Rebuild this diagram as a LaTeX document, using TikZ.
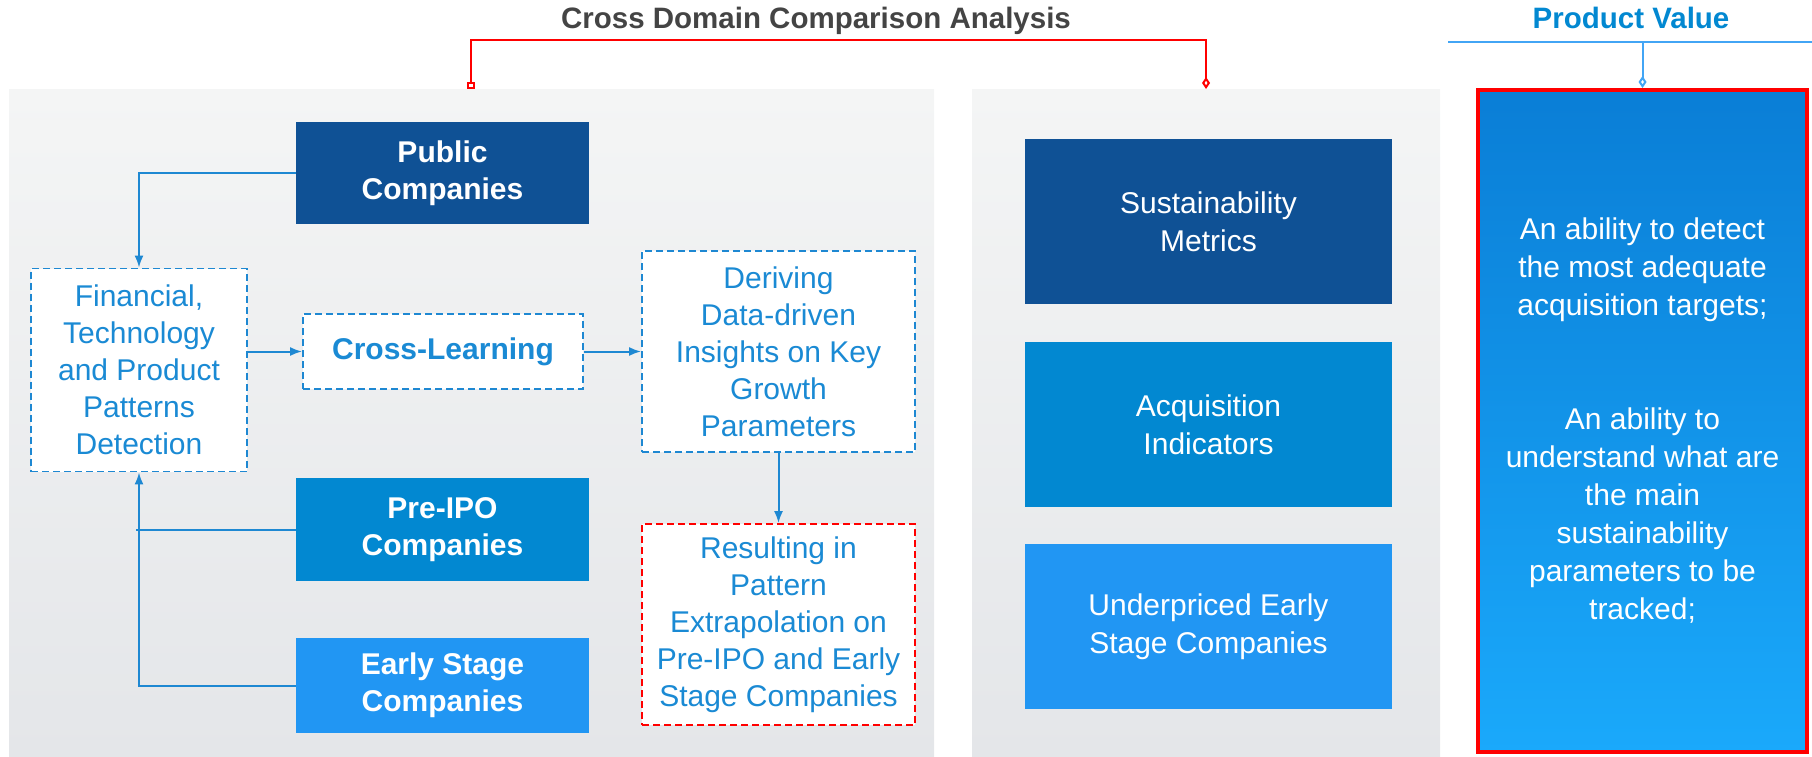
\documentclass[tikz,border=0pt]{standalone}
\usepackage{fontspec}
\setmainfont{Liberation Sans}
\usepackage{tikz}
\usetikzlibrary{arrows.meta,positioning}

\definecolor{navy}{HTML}{0F5195}
\definecolor{midblue}{HTML}{0288D1}
\definecolor{lightblue}{HTML}{2196F3}
\definecolor{lineblue}{HTML}{1E88D2}
\definecolor{textblue}{HTML}{1A8AD4}
\definecolor{pvblue}{HTML}{42A5F5}
\definecolor{paneltop}{HTML}{F4F5F5}
\definecolor{panelbot}{HTML}{E4E6E9}
\definecolor{valtop}{HTML}{0A7ED6}
\definecolor{valbot}{HTML}{1AA9FB}
\definecolor{titlegray}{HTML}{444444}

\begin{document}
\begin{tikzpicture}[x=1pt,y=-1pt,
	solid box/.style={fill=#1, text=white, minimum width=293pt, align=center, inner sep=0pt,
		font=\fontsize{30}{37}\selectfont\bfseries},
	plain box/.style={fill=#1, text=white, minimum width=367pt, minimum height=165pt, align=center,
		inner sep=0pt, font=\fontsize{30}{38}\selectfont},
	dash box/.style={draw=lineblue, fill=white, text=textblue, line width=1.8pt,
		dash pattern=on 7pt off 4pt, align=center, inner sep=0pt, font=\fontsize{30}{37}\selectfont},
	conn/.style={draw=lineblue, line width=2pt},
	tip/.style={-{Latex[length=12pt,width=9pt]}},
	bracket/.style={draw=red, line width=2pt},
	head/.style={anchor=base, font=\fontsize{29.5}{35}\selectfont\bfseries}]
	%%Canvas
	\useasboundingbox (0,0) rectangle (1812,757);
	%%Panels
	\shade[top color=paneltop, bottom color=panelbot] (9,90) rectangle (934,757);
	\shade[top color=paneltop, bottom color=panelbot] (972,90) rectangle (1440,757);
	
	%%Titles
	\node[head, text=titlegray] (cdca) at (816,29) {Cross Domain Comparison Analysis};
	\node[head, text=midblue] (pval) at (1631,29) {Product Value};
	
	%%Company sources
	\node[solid box=navy, minimum height=102pt] (pub) at (442.5,173) {Public\\Companies};
	\node[solid box=midblue, minimum height=103pt] (pre) at (442.5,529.5) {Pre-IPO\\Companies};
	\node[solid box=lightblue, minimum height=95pt] (early) at (442.5,685.5) {Early Stage\\Companies};
	
	%%Process
	\node[dash box, minimum width=216pt, minimum height=203pt] (fin) at (139,370)
		{Financial,\\Technology\\and Product\\Patterns\\Detection};
	\node[dash box, minimum width=280pt, minimum height=75pt,
		font=\fontsize{30}{37}\selectfont\bfseries] (cross) at (443,351.5) {Cross-Learning};
	\node[dash box, minimum width=273pt, minimum height=201pt] (derive) at (778.5,351.5)
		{Deriving\\Data-driven\\Insights on Key\\Growth\\Parameters};
	\node[dash box, draw=red, minimum width=273pt, minimum height=201pt] (result) at (778.5,624.5)
		{Resulting in\\Pattern\\Extrapolation on\\Pre-IPO and Early\\Stage Companies};
	
	%%Outcomes
	\node[plain box=navy] (sust) at (1208.5,221.5) {Sustainability\\Metrics};
	\node[plain box=midblue] (acq) at (1208.5,424.5) {Acquisition\\Indicators};
	\node[plain box=lightblue] (under) at (1208.5,626.5) {Underpriced Early\\Stage Companies};
	
	%%Value
	\node[top color=valtop, bottom color=valbot, draw=red, line width=4pt, minimum width=329pt,
		minimum height=662pt, text=white, align=center, font=\fontsize{30}{38}\selectfont] (val)
		at (1642.5,421) {An ability to detect\\the most adequate\\acquisition targets;\\[76pt]
		An ability to\\understand what are\\the main\\sustainability\\parameters to be\\tracked;};
	
	%%Connectors
	\draw[conn, tip] (pub.west) -| (fin.north);
	\draw[conn, tip] (fin.east |- cross.west) -- (cross.west);
	\draw[conn, tip] (cross.east) -- (derive.west);
	\draw[conn, tip] (derive.south) -- (result.north);
	\draw[conn] (pre.west) -- ([xshift=-3pt]pre.west -| fin.south);
	\draw[conn, tip] (early.west) -| (fin.south);
	
	%%Brackets
	\coordinate (brl) at (471,89);
	\coordinate (brr) at (1206,89);
	\draw[bracket, {Square[open,length=7pt,width=8pt]}-{Diamond[open,length=12pt,width=8pt]}]
		(brl) -- (brl |- 0,40) -- (brr |- 0,40) -- (brr);
	\coordinate (pvl) at (1448,42);
	\coordinate (pvr) at (1812,42);
	\draw[draw=pvblue, line width=2pt] (pvl) -- (pvr);
	\draw[draw=pvblue, line width=2pt, -{Diamond[open,length=12pt,width=8pt]}]
		(val.north |- pvl) -- (val.north);
\end{tikzpicture}
\end{document}
